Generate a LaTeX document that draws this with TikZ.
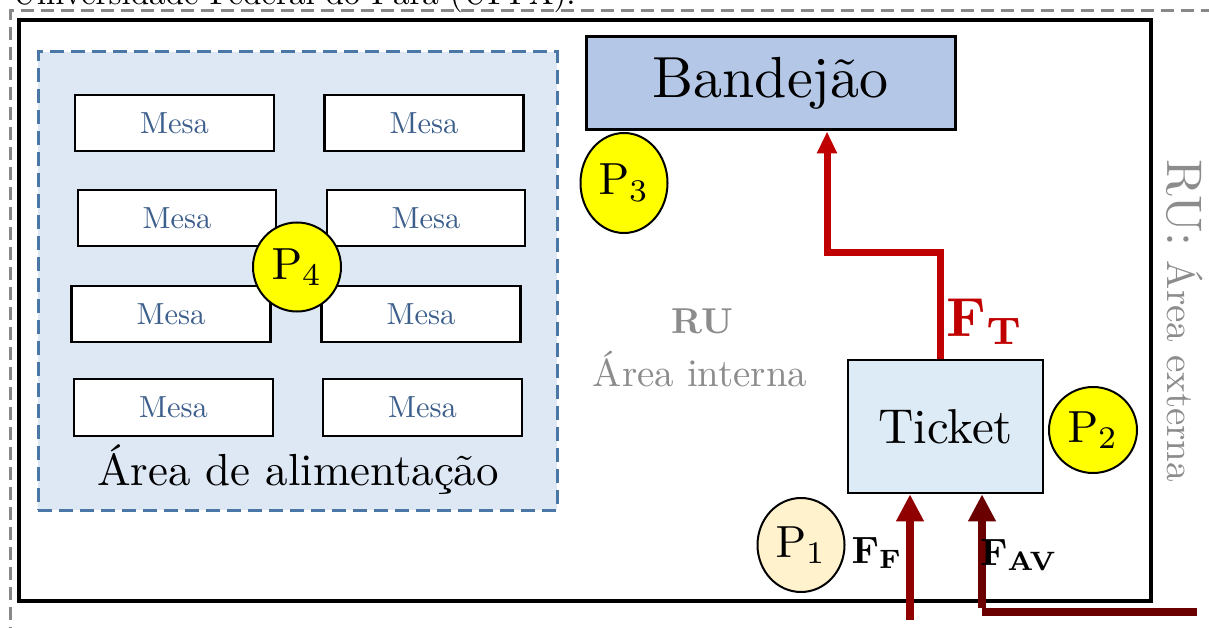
\documentclass[tikz,border=0pt]{standalone}
\usetikzlibrary{shapes.geometric,arrows.meta}
\definecolor{areafill}{HTML}{DEE8F5}
\definecolor{areaedge}{HTML}{4A77A6}
\definecolor{mesablue}{HTML}{3D5F8C}
\definecolor{bandfill}{HTML}{B4C7E7}
\definecolor{ticketfill}{HTML}{DDEBF7}
\definecolor{ptyellow}{HTML}{FFFF00}
\definecolor{ppeach}{HTML}{FFF2CC}
\definecolor{ftred}{HTML}{C00000}
\definecolor{ffred}{HTML}{900000}
\definecolor{favred}{HTML}{6B0000}
\definecolor{txtgray}{HTML}{8C8C8C}
\definecolor{dashgray}{HTML}{888888}
\newcommand\sz[2]{\scalebox{#1}{#2}}
\begin{document}
\begin{tikzpicture}[x=1pt,y=-1pt,
  mesabox/.style={draw=black, line width=2.2pt, fill=white, minimum width=199pt, minimum height=56pt, inner sep=0pt, text=mesablue},
  pcircle/.style={ellipse, draw=black, line width=2pt, fill=ptyellow, inner sep=0pt},
  flowline/.style={line width=7pt, -{Triangle[width=19pt,length=22pt]}},
  flowthick/.style={line width=8pt, -{Triangle[width=26pt,length=27pt]}}
]
\useasboundingbox (0,0) rectangle (1209,628);
\clip (0,0) rectangle (1209,628);

% title (cut off at top)
\node[anchor=base west, inner sep=0pt] (title) at (12,5) {\sz{3.3}{Universidade Federal do Pará (UFPA).}};

% outer dashed boundary
\draw[dashgray, line width=3pt, dash pattern=on 13pt off 7pt] (10,640) -- (10,11) -- (1230,11);

% RU inner boundary
\draw[black, line width=3.2pt] (19,20) rectangle (1151,601);

% eating area
\node[draw=areaedge, fill=areafill, line width=3pt, dash pattern=on 14pt off 7pt, minimum width=519pt, minimum height=458pt, inner sep=0pt] (area) at (297.5,281) {};
\node[inner sep=0pt] (arealabel) at (298,470) {\sz{4.49}{Área de alimentação}};

\node[mesabox] (m1) at (174.5,123) {\sz{3.05}{Mesa}};
\node[mesabox] (m2) at (424,123) {\sz{3.05}{Mesa}};
\node[mesabox, minimum width=198pt] (m3) at (177,218) {\sz{3.05}{Mesa}};
\node[mesabox, minimum width=198pt] (m4) at (426,218) {\sz{3.05}{Mesa}};
\node[mesabox] (m5) at (171,314) {\sz{3.05}{Mesa}};
\node[mesabox] (m6) at (421,314) {\sz{3.05}{Mesa}};
\node[mesabox, minimum height=57pt] (m7) at (173.5,407.5) {\sz{3.05}{Mesa}};
\node[mesabox, minimum height=57pt] (m8) at (422.5,407.5) {\sz{3.05}{Mesa}};

% Bandejao and Ticket
\node[draw=black, line width=3pt, fill=bandfill, minimum width=369pt, minimum height=93pt, inner sep=0pt] (band) at (770.5,83.5) {\sz{5.8}{Bandejão}};
\node[draw=black, line width=2.5pt, fill=ticketfill, minimum width=195pt, minimum height=133pt, inner sep=0pt] (ticket) at (945.5,426.5) {\sz{4.9}{Ticket}};

% internal area label
\node[text=txtgray, inner sep=0pt] (rulab) at (702,321) {\sz{3.6}{\bfseries RU}};
\node[text=txtgray, inner sep=0pt] (intlab) at (700,369) {\sz{3.89}{Área interna}};

% external area label
\node[text=txtgray, rotate=-90, inner sep=0pt] (extlab) at (1185,321) {\sz{5}{RU:}\hspace{14pt}\sz{3.9}{Área externa}};

% flows
\coordinate (ft1) at (940,253);
\coordinate (ft2) at (827,253);
\draw[ftred, flowline] (ft1 |- ticket.north) -- (ft1) -- (ft2) -- (ft2 |- band.south);
\node[text=ftred, inner sep=0pt] (ftlab) at (985,322) {\sz{5.5}{$\mathbf{F_T}$}};

\coordinate (ffs) at (910,620);
\draw[ffred, flowthick] (ffs) -- (ffs |- ticket.south);
\node[inner sep=0pt] (fflab) at (877,553) {\sz{3.8}{$\mathbf{F_F}$}};

\coordinate (favs) at (1197,612);
\coordinate (favc) at (982,612);
\draw[favred, line width=8pt] (favs) -- (favc);
\draw[favred, flowthick] ([yshift=4pt]favc) -- (favc |- ticket.south);
\node[inner sep=0pt] (favlab) at (1019,555) {\sz{3.8}{$\mathbf{F_{AV}}$}};

% points
\node[pcircle, minimum width=87pt, minimum height=100pt] (p3) at (624,183) {\sz{4.5}{$\mathrm{P}_3$}};
\node[pcircle, minimum width=88pt, minimum height=89pt] (p4) at (297,267) {\sz{4.5}{$\mathrm{P}_4$}};
\node[pcircle, minimum width=88pt, minimum height=86pt] (p2) at (1093,430) {\sz{4.5}{$\mathrm{P}_2$}};
\node[pcircle, fill=ppeach, minimum width=87pt, minimum height=94pt] (p1) at (801,545) {\sz{4.5}{$\mathrm{P}_1$}};
\end{tikzpicture}
\end{document}
